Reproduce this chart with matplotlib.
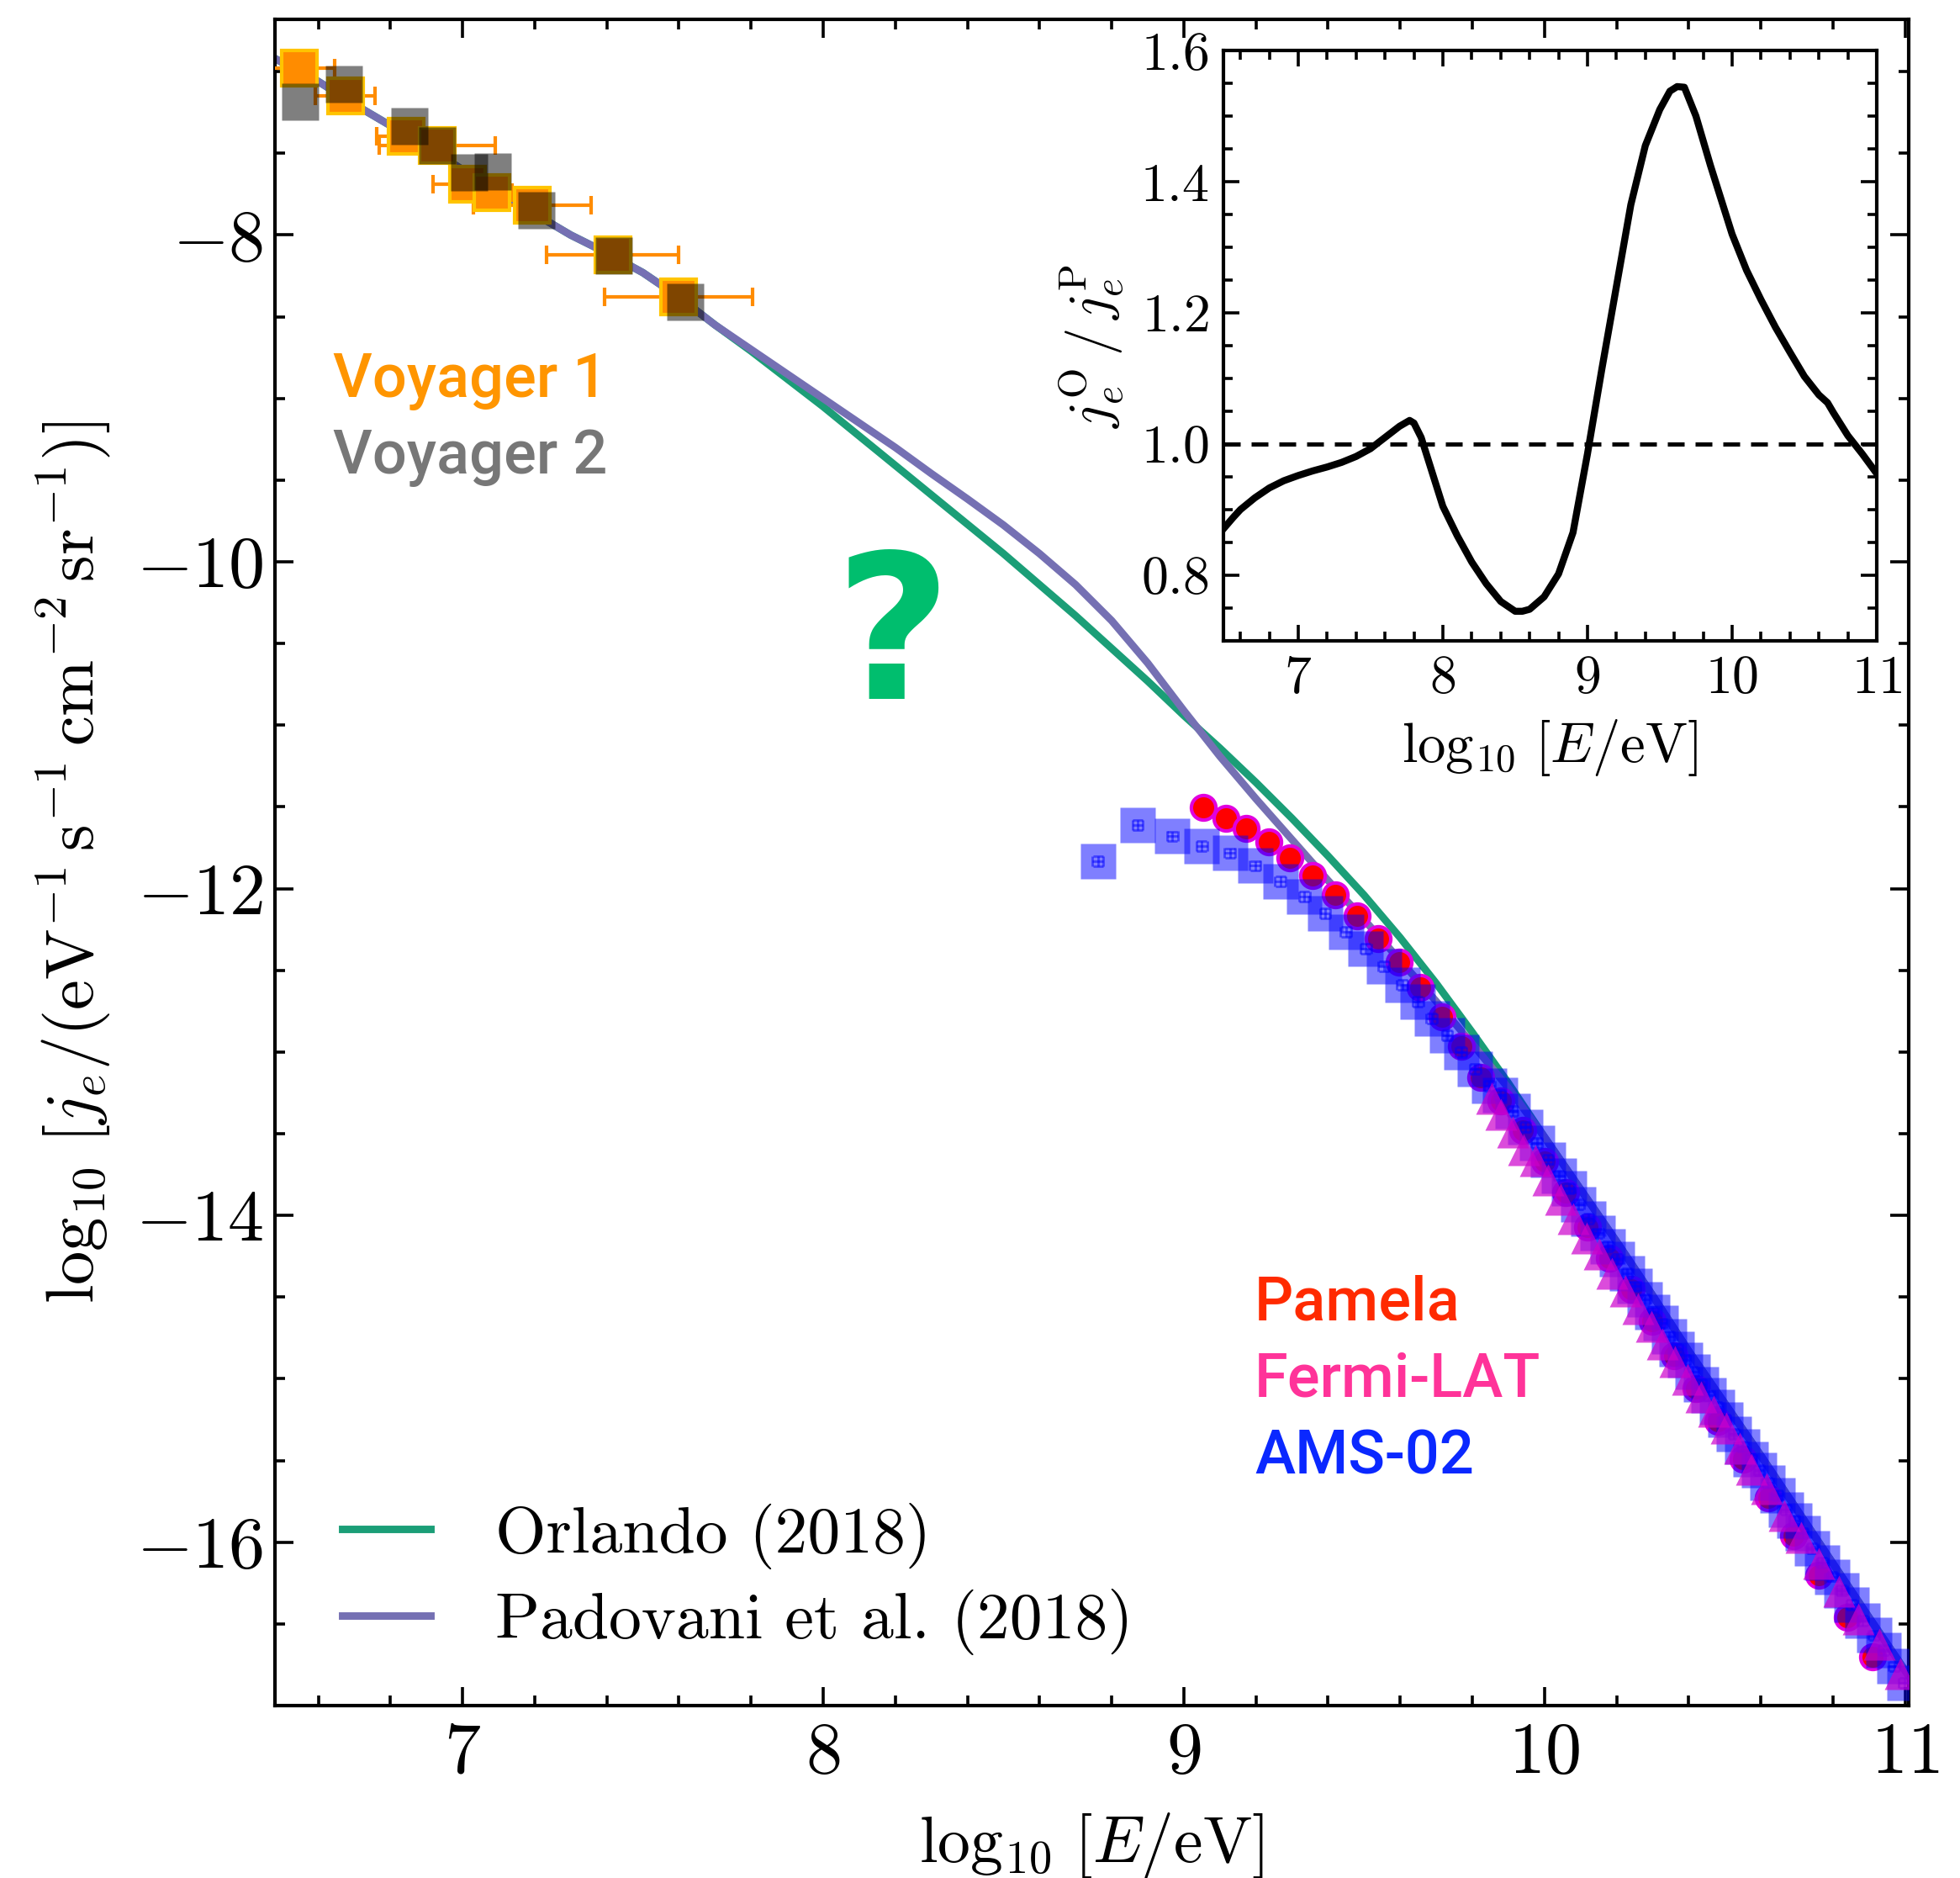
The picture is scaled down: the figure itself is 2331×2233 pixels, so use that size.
import matplotlib
matplotlib.use("Agg")
import matplotlib.pyplot as plt
from matplotlib.ticker import MultipleLocator

# Computer Modern look for axes / legend text
plt.rcParams['font.family'] = 'serif'
plt.rcParams['font.serif'] = ['cmr10']
plt.rcParams['mathtext.fontset'] = 'cm'
plt.rcParams['axes.formatter.use_mathtext'] = True

# ---- data ----
# Voyager 1 / Voyager 2 (log10 E, log10 j)
v1_x = [6.548, 6.675, 6.843, 6.930, 7.013, 7.081, 7.193, 7.417, 7.599]
v1_y = [-6.976, -7.148, -7.396, -7.451, -7.687, -7.742, -7.816, -8.119, -8.376]
v1_xerr = [0.098, 0.083, 0.080, 0.160, 0.094, 0.056, 0.163, 0.183, 0.205]
v2_x = [6.549, 6.671, 6.853, 6.930, 7.019, 7.084, 7.204, 7.419, 7.617]
v2_y = [-7.182, -7.074, -7.334, -7.451, -7.619, -7.610, -7.850, -8.124, -8.410]

# Pamela
pam_x = [9.054, 9.116, 9.174, 9.236, 9.295, 9.357, 9.419, 9.481, 9.540, 9.598,
         9.656, 9.715, 9.769, 9.824, 9.88, 9.94, 10.0, 10.06, 10.12, 10.18,
         10.24, 10.30, 10.36, 10.42, 10.48, 10.55, 10.62, 10.69, 10.76, 10.84, 10.91]
pam_y = [-11.505, -11.569, -11.629, -11.715, -11.814, -11.92, -12.04, -12.169, -12.306, -12.452,
         -12.606, -12.786, -12.966, -13.157, -13.30, -13.48, -13.67, -13.86, -14.07, -14.26,
         -14.45, -14.65, -14.86, -15.06, -15.26, -15.49, -15.73, -15.96, -16.20, -16.46, -16.70]

# AMS-02
ams_x = [8.762, 8.872, 8.968, 9.050, 9.128, 9.198, 9.268, 9.334, 9.392, 9.450,
         9.505, 9.555, 9.606, 9.649, 9.688, 9.730, 9.769, 9.808, 9.847, 9.876,
         9.912, 9.947, 9.979, 10.010, 10.041, 10.068, 10.095, 10.121, 10.148, 10.175,
         10.202, 10.229, 10.251, 10.278, 10.300, 10.323, 10.345, 10.367, 10.389, 10.412,
         10.434, 10.456, 10.479, 10.501, 10.526, 10.549, 10.572, 10.595, 10.619, 10.646,
         10.669, 10.693, 10.716, 10.743, 10.771, 10.798, 10.824, 10.852, 10.883, 10.914,
         10.941, 10.970, 10.998]
ams_y = [-11.831, -11.612, -11.680, -11.740, -11.783, -11.860, -11.955, -12.049, -12.152, -12.263,
         -12.366, -12.477, -12.589, -12.692, -12.795, -12.897, -13.000, -13.103, -13.206, -13.263,
         -13.361, -13.460, -13.558, -13.657, -13.755, -13.833, -13.932, -14.021, -14.109, -14.188,
         -14.266, -14.355, -14.434, -14.513, -14.591, -14.660, -14.739, -14.818, -14.886, -14.955,
         -15.034, -15.103, -15.172, -15.250, -15.336, -15.413, -15.490, -15.559, -15.636, -15.713,
         -15.799, -15.867, -15.944, -16.039, -16.124, -16.210, -16.296, -16.382, -16.480, -16.570,
         -16.660, -16.760, -16.860]

# Fermi-LAT
fermi_x = [9.853, 9.880, 9.912, 9.943, 9.974, 10.010, 10.046, 10.081, 10.117, 10.153,
           10.188, 10.224, 10.260, 10.296, 10.327, 10.363, 10.398, 10.434, 10.470, 10.505,
           10.541, 10.575, 10.617, 10.664, 10.711, 10.761, 10.816, 10.870, 10.928, 10.987]
fermi_y = [-13.283, -13.381, -13.489, -13.597, -13.666, -13.785, -13.902, -14.021, -14.139, -14.237,
           -14.355, -14.463, -14.572, -14.680, -14.788, -14.896, -15.005, -15.113, -15.201, -15.300,
           -15.427, -15.554, -15.674, -15.836, -15.973, -16.128, -16.299, -16.471, -16.625, -16.805]

# model spectra
orl_x = [6.48, 6.6, 6.7, 6.8, 6.9, 7.0, 7.1, 7.2, 7.3, 7.4, 7.5, 7.6, 7.7, 7.8, 7.9,
         8.0, 8.1, 8.2, 8.3, 8.4, 8.5, 8.6, 8.7, 8.8, 8.9, 9.0, 9.1, 9.2, 9.3, 9.4,
         9.5, 9.6, 9.7, 9.8, 9.9, 10.0, 10.1, 10.2, 10.3, 10.4, 10.5, 10.6, 10.7, 10.8,
         10.9, 11.02]
orl_y = [-6.92, -7.06, -7.20, -7.33, -7.46, -7.60, -7.74, -7.87, -8.00, -8.11, -8.23, -8.38,
         -8.55, -8.71, -8.88, -9.05, -9.23, -9.41, -9.59, -9.77, -9.95, -10.14, -10.33, -10.53,
         -10.73, -10.94, -11.14, -11.35, -11.57, -11.80, -12.04, -12.30, -12.58, -12.88, -13.19,
         -13.52, -13.84, -14.16, -14.49, -14.83, -15.15, -15.47, -15.80, -16.13, -16.46, -16.85]
pad_x = [6.48, 6.6, 6.7, 6.8, 6.9, 7.0, 7.1, 7.2, 7.3, 7.4, 7.5, 7.6, 7.7, 7.8, 7.9,
         8.0, 8.1, 8.2, 8.3, 8.4, 8.5, 8.6, 8.7, 8.8, 8.9, 9.0, 9.1, 9.2, 9.3, 9.4,
         9.5, 9.6, 9.7, 9.8, 9.9, 10.0, 10.1, 10.2, 10.3, 10.4, 10.5, 10.6, 10.7, 10.8,
         10.9, 11.02]
pad_y = [-6.92, -7.06, -7.20, -7.33, -7.46, -7.60, -7.74, -7.87, -8.00, -8.11, -8.23, -8.38,
         -8.55, -8.70, -8.85, -9.00, -9.15, -9.30, -9.46, -9.615, -9.775, -9.95, -10.14, -10.36,
         -10.62, -10.91, -11.19, -11.45, -11.70, -11.95, -12.19, -12.44, -12.69, -12.95, -13.22,
         -13.52, -13.84, -14.16, -14.49, -14.83, -15.15, -15.47, -15.80, -16.13, -16.46, -16.85]

# inset: ratio Orlando / Padovani
rat_x = [6.48, 6.55, 6.6, 6.7, 6.8, 6.9, 7.0, 7.1, 7.2, 7.3, 7.4, 7.5, 7.6, 7.7, 7.77,
         7.8, 7.85, 7.9, 8.0, 8.1, 8.2, 8.3, 8.4, 8.5, 8.55, 8.6, 8.7, 8.8, 8.9, 9.0,
         9.1, 9.2, 9.3, 9.4, 9.5, 9.57, 9.62, 9.67, 9.75, 9.85, 10.0, 10.1, 10.2, 10.3,
         10.4, 10.5, 10.6, 10.66, 10.7, 10.8, 10.9, 11.0]
rat_y = [0.870, 0.888, 0.900, 0.918, 0.933, 0.944, 0.952, 0.959, 0.965, 0.972, 0.981, 0.993,
         1.010, 1.027, 1.036, 1.032, 1.010, 0.975, 0.905, 0.860, 0.820, 0.787, 0.760, 0.745,
         0.745, 0.748, 0.767, 0.802, 0.865, 0.985, 1.115, 1.240, 1.365, 1.455, 1.510, 1.538,
         1.545, 1.544, 1.500, 1.425, 1.320, 1.265, 1.220, 1.178, 1.140, 1.103, 1.075, 1.063,
         1.048, 1.013, 0.985, 0.955]

fig = plt.figure(figsize=(11.655, 11.165), dpi=200)
ax = fig.add_axes([0.1403, 0.0918, 0.8335, 0.8979])

ax.plot(orl_x, orl_y, color='#1b9e77', lw=3.2, zorder=2, label='Orlando (2018)')
ax.plot(pad_x, pad_y, color='#7570b3', lw=3.2, zorder=2, label='Padovani et al. (2018)')

ax.errorbar(v1_x, v1_y, xerr=v1_xerr, fmt='s', ms=15, mfc='#ff8c00', mec='#ffc400', mew=1.5,
            ecolor='#ff8c00', elinewidth=1.5, capsize=4, capthick=1.5, zorder=3)
ax.plot(v2_x, v2_y, 's', ms=15.5, color='k', alpha=0.5, mec='none', zorder=4)

ax.plot(pam_x, pam_y, 'o', ms=10.5, mfc='red', mec='#e000e0', mew=1.5, zorder=3)
ax.errorbar(ams_x, ams_y, xerr=0.015, yerr=0.03, fmt='s', ms=15, color='blue', alpha=0.5,
            mec='none', elinewidth=1, capsize=2, zorder=4)
ax.plot(fermi_x, fermi_y, '^', ms=13.5, color='#cc00cc', alpha=0.7, mec='none', zorder=5)

# experiment labels
lab_font = dict(family='Roboto', fontsize=26, fontweight='medium')
ax.text(6.641, -8.99, 'Voyager 1', color='#ff9500', **lab_font)
ax.text(6.641, -9.46, 'Voyager 2', color='#777777', **lab_font)
ax.text(9.196, -14.64, 'Pamela', color='#ff2a00', **lab_font)
ax.text(9.196, -15.11, 'Fermi-LAT', color='#ff3399', **lab_font)
ax.text(9.196, -15.58, 'AMS-02', color='#0a28ff', **lab_font)
ax.text(8.193, -10.50, '?', color='#00be6e', family='DejaVu Sans', fontsize=86,
        fontweight='bold', ha='center', va='center')

ax.set_xlim(6.48, 11.01)
ax.set_ylim(-17.0, -6.68)
ax.xaxis.set_major_locator(MultipleLocator(1))
ax.xaxis.set_minor_locator(MultipleLocator(0.2))
ax.yaxis.set_major_locator(MultipleLocator(2))
ax.yaxis.set_minor_locator(MultipleLocator(0.5))
ax.tick_params(which='both', direction='in', top=True, right=True, width=1.3)
ax.tick_params(which='major', length=8, labelsize=31)
ax.tick_params(which='minor', length=4.3)
ax.tick_params(axis='x', pad=7)
ax.tick_params(axis='y', pad=5)
for s in ax.spines.values():
    s.set_linewidth(1.5)
ax.set_xlabel(r'$\log_{10}\,[E/{\rm eV}]$', fontsize=28, labelpad=10)
ax.set_ylabel(r'$\log_{10}\,[j_e/({\rm eV^{-1}\,s^{-1}\,cm^{-2}\,sr^{-1}})]$', fontsize=29, labelpad=10)

ax.legend(loc='lower left', bbox_to_anchor=(0.041, 0.03), frameon=False, fontsize=28,
          handlelength=1.35, handletextpad=1.0, labelspacing=0.3, borderpad=0, borderaxespad=0)

# ---- inset ----
axi = fig.add_axes([0.624, 0.6588, 0.3335, 0.3143])
axi.plot(rat_x, rat_y, color='k', lw=3)
axi.axhline(1.0, color='k', lw=1.8, ls='--', dashes=(4, 2.6))
axi.set_xlim(6.48, 11.0)
axi.set_ylim(0.7, 1.6)
axi.xaxis.set_major_locator(MultipleLocator(1))
axi.xaxis.set_minor_locator(MultipleLocator(0.2))
axi.yaxis.set_major_locator(MultipleLocator(0.2))
axi.yaxis.set_minor_locator(MultipleLocator(0.05))
axi.tick_params(which='both', direction='in', top=True, right=True, width=1.3)
axi.tick_params(which='major', length=7, labelsize=23, pad=6)
axi.tick_params(which='minor', length=4)
for s in axi.spines.values():
    s.set_linewidth(1.5)
axi.set_xlabel(r'$\log_{10}\,[E/{\rm eV}]$', fontsize=24, labelpad=6)
axi.set_ylabel(r'$j_e^{\rm O}\,/\,j_e^{\rm P}$', fontsize=24, labelpad=6)

fig.savefig('out.png', dpi=200)
